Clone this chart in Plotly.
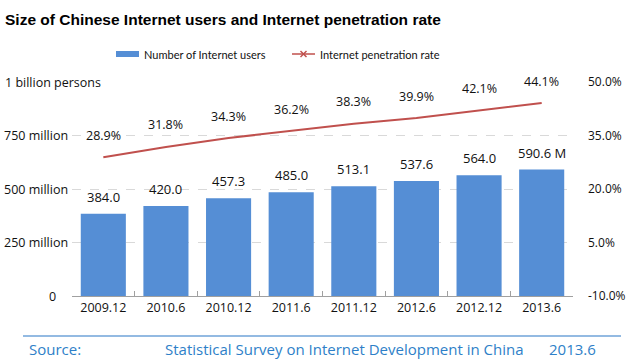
import plotly.graph_objects as go

categories = ["2009.12", "2010.6", "2010.12", "2011.6", "2011.12", "2012.6", "2012.12", "2013.6"]
users = [384.0, 420.0, 457.3, 485.0, 513.1, 537.6, 564.0, 590.6]
user_labels = ["384.0", "420.0", "457.3", "485.0", "513.1", "537.6", "564.0", "590.6 M"]
rate = [28.9, 31.8, 34.3, 36.2, 38.3, 39.9, 42.1, 44.1]
rate_labels = ["28.9%", "31.8%", "34.3%", "36.2%", "38.3%", "39.9%", "42.1%", "44.1%"]
left_ticks = [0, 250, 500, 750, 1000]
left_tick_text = ["0", "250 million", "500 million", "750 million", "1 billion persons"]
right_ticks = [-10, 5, 20, 35, 50]
right_tick_text = ["-10.0%", "5.0%", "20.0%", "35.0%", "50.0%"]

BAR = "#558ED5"
LINE = "#C0504D"
FONT = "Open Sans, DejaVu Sans, sans-serif"
SRC = "#2E7FC8"
TXT = "#111111"

W, H = 640, 364
L, R, T, B = 72, 67, 82, 68
pw, ph = W - L - R, H - T - B


def px(x):
    return (x - L) / pw


def py(y):
    return (H - B - y) / ph


fig = go.Figure()
fig.add_trace(go.Bar(x=categories, y=users, marker=dict(color=BAR, line=dict(width=0)),
                     width=0.72, showlegend=False, hoverinfo="skip"))
fig.add_trace(go.Scatter(x=categories, y=rate, yaxis="y2", mode="lines",
                         line=dict(color=LINE, width=2), showlegend=False))

annotations = []
for i, (v, t) in enumerate(zip(users, user_labels)):
    annotations.append(dict(x=i, y=v, xref="x", yref="y", text=t, showarrow=False,
                            yanchor="bottom", yshift=6, font=dict(family=FONT, size=13, color=TXT)))
for i, (v, t) in enumerate(zip(rate, rate_labels)):
    annotations.append(dict(x=i, y=v, xref="x", yref="y2", text=t, showarrow=False,
                            yanchor="middle", yshift=22, font=dict(family=FONT, size=12.5, color=TXT)))
# left axis labels
for v, t in zip(left_ticks, left_tick_text):
    f = dict(family=FONT, size=12.5, color=TXT)
    if v == 1000:
        annotations.append(dict(x=0, xref="paper", xanchor="left", xshift=-71, y=v, yref="y", text=t,
                                showarrow=False, bgcolor="white", borderpad=3, font=f))
    elif v == 0:
        annotations.append(dict(x=0, xref="paper", xanchor="right", xshift=-14, y=v, yref="y", text=t,
                                showarrow=False, font=f))
    else:
        annotations.append(dict(x=0, xref="paper", xanchor="right", xshift=-2, y=v, yref="y", text=t,
                                showarrow=False, font=f))

legend_font = dict(family="Lato, Open Sans, sans-serif", size=11, color=TXT)
annotations.append(dict(x=px(142), y=py(54), xref="paper", yref="paper", xanchor="left", yanchor="middle",
                        text="Number of Internet users", showarrow=False, font=legend_font))
annotations.append(dict(x=px(318), y=py(54), xref="paper", yref="paper", xanchor="left", yanchor="middle",
                        text="Internet penetration rate", showarrow=False, font=legend_font))
src_font = dict(family=FONT, size=15, color=SRC)
annotations.append(dict(x=px(27), y=py(349), xref="paper", yref="paper", xanchor="left", yanchor="middle",
                        text="Source:", showarrow=False, font=src_font))
annotations.append(dict(x=px(163), y=py(349), xref="paper", yref="paper", xanchor="left", yanchor="middle",
                        text="Statistical Survey on Internet Development in China", showarrow=False, font=src_font))
annotations.append(dict(x=px(547), y=py(349), xref="paper", yref="paper", xanchor="left", yanchor="middle",
                        text="2013.6", showarrow=False, font=src_font))

shapes = [
    dict(type="rect", xref="paper", yref="paper", x0=px(116), x1=px(139), y0=py(57), y1=py(51),
         fillcolor=BAR, line=dict(width=0)),
    dict(type="line", xref="paper", yref="paper", x0=px(292), x1=px(315), y0=py(54), y1=py(54),
         line=dict(color=LINE, width=1.5)),
    dict(type="line", xref="paper", yref="paper", x0=px(300.5), x1=px(306.5), y0=py(51), y1=py(57),
         line=dict(color=LINE, width=1.5)),
    dict(type="line", xref="paper", yref="paper", x0=px(300.5), x1=px(306.5), y0=py(57), y1=py(51),
         line=dict(color=LINE, width=1.5)),
    dict(type="line", xref="paper", yref="paper", x0=px(23), x1=px(621), y0=py(336), y1=py(336),
         line=dict(color="#6FA3D8", width=1.5)),
]

fig.update_layout(
    width=W, height=H,
    margin=dict(l=L, r=R, t=T, b=B, autoexpand=False),
    paper_bgcolor="white", plot_bgcolor="white",
    title=dict(text="<b>Size of Chinese Internet users and Internet penetration rate</b>",
               x=5 / W, xanchor="left", y=1 - 20 / H, yanchor="middle",
               font=dict(family="Liberation Sans, Arial, sans-serif", size=15.5, color="#000")),
    bargap=0.28,
    xaxis=dict(type="category", showgrid=False, showline=True, linecolor="#A0A0A0", linewidth=1,
               ticks="inside", ticklen=5, tickcolor="#A0A0A0", tickson="boundaries",
               tickfont=dict(family=FONT, size=12.5, color=TXT), range=[-0.5, 7.5]),
    yaxis=dict(range=[0, 1000], tickvals=left_ticks, showticklabels=False, showgrid=True,
               gridcolor="#D9D9D9", griddash="dash", gridwidth=1, zeroline=False),
    yaxis2=dict(range=[-10, 50], overlaying="y", side="right", tickvals=right_ticks, ticktext=right_tick_text,
                showgrid=False, zeroline=False, ticklabelstandoff=14,
                tickfont=dict(family=FONT, size=12, color=TXT)),
    annotations=annotations,
    shapes=shapes,
)

fig.write_html("out.html", config={"displayModeBar": False},
               post_script="document.body.style.margin='0';document.body.style.overflow='hidden';")
